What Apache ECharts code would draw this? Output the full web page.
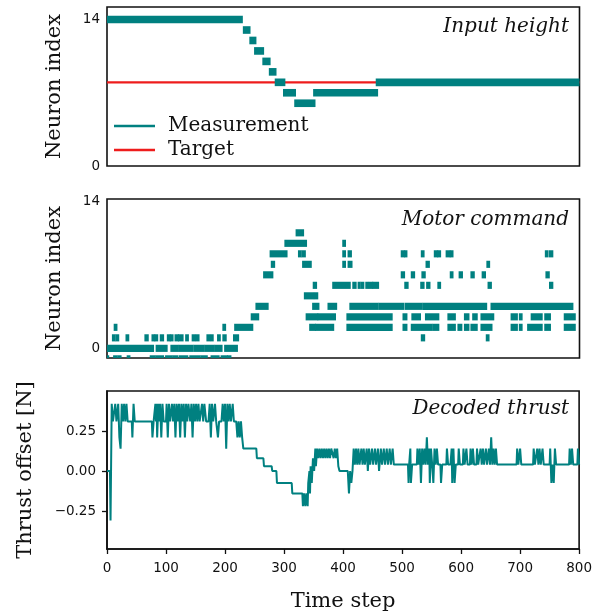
<!DOCTYPE html>
<html>
<head>
<meta charset="utf-8">
<script src="https://cdn.jsdelivr.net/npm/echarts@6/dist/echarts.min.js"></script>
<style>
  html, body { margin: 0; padding: 0; background: #fff; }
  #chart { width: 595px; height: 616px; }
</style>
</head>
<body>
<div id="chart"></div>
<script>
// tick values
var timeTicks = [0, 100, 200, 300, 400, 500, 600, 700, 800]
var neuronTicks = [0, 14]
var thrustTicks = [-0.25, 0, 0.25]

// input height: [start step, end step, neuron row]
var measurement = [
  [0, 230, 14], [230, 243, 13], [241, 253, 12], [249, 266, 11], [263, 277, 10],
  [274, 287, 9], [284, 302, 8], [298, 320, 7], [317, 353, 6], [349, 459, 7], [455, 800, 8]
]
var target = [[0, 8], [800, 8]]

// motor command spikes, one list of [start, end] per neuron row
var motorRowIndex = [11, 10, 9, 8, 7, 6, 5, 4, 3, 2, 1, 0, -1]
var motorRowIntervals = [
  [[321, 332]],
  [[302, 337], [400, 403]],
  [[277, 304], [325, 328], [331, 335], [400, 403], [409, 413], [499, 503], [505, 507], [533, 536], [555, 559], [561, 564], [575, 580], [582, 585], [743, 746], [750, 754]],
  [[279, 283], [332, 345], [400, 403], [409, 414], [541, 545], [644, 647]],
  [[266, 280], [499, 503], [516, 520], [534, 538], [582, 585], [597, 601], [617, 621], [636, 640], [744, 748]],
  [[350, 354], [383, 411], [417, 421], [426, 428], [431, 434], [439, 442], [445, 449], [451, 459], [505, 509], [532, 536], [542, 546], [561, 564], [646, 650], [750, 754]],
  [[335, 349], [352, 356]],
  [[253, 272], [349, 358], [375, 388], [412, 458], [461, 502], [506, 533], [536, 642], [651, 788]],
  [[245, 256], [338, 356], [358, 386], [407, 482], [502, 507], [517, 530], [540, 561], [578, 589], [606, 612], [620, 626], [634, 654], [685, 694], [699, 702], [719, 736], [742, 750], [775, 792]],
  [[13, 16], [197, 200], [217, 246], [344, 352], [354, 383], [407, 482], [502, 507], [516, 550], [553, 561], [578, 589], [595, 600], [606, 612], [617, 626], [634, 651], [685, 694], [699, 702], [713, 736], [742, 750], [775, 792]],
  [[10, 13], [16, 19], [33, 36], [65, 69], [77, 80], [82, 85], [91, 95], [103, 106], [108, 111], [116, 120], [122, 128], [134, 137], [145, 149], [152, 155], [170, 173], [176, 179], [188, 191], [197, 201], [215, 222], [533, 537], [643, 646]],
  [[0, 78], [84, 101], [109, 119], [122, 145], [148, 164], [167, 180], [183, 194], [200, 220]],
  [[0, 2], [12, 16], [19, 23], [35, 38], [74, 81], [84, 95], [100, 109], [112, 119], [123, 136], [141, 157], [160, 169], [177, 189], [194, 203], [205, 209]]
]

// decoded thrust: [step, offset N]
var thrust = [
  [0, 0], [5, 0], [6, -0.31], [8, 0.42], [10, 0.31], [12, 0.31], [14, 0.42], [16, 0.31], [19, 0.42], [21, 0.21],
  [23, 0.14], [25, 0.42], [27, 0.31], [29, 0.42], [31, 0.31], [33, 0.42], [35, 0.31], [42, 0.31], [43, 0.21], [45, 0.42],
  [47, 0.31], [76, 0.31], [77, 0.21], [79, 0.31], [82, 0.42], [83, 0.31], [84, 0.42], [85, 0.21], [87, 0.42], [89, 0.31],
  [90, 0.42], [92, 0.21], [94, 0.42], [96, 0.31], [100, 0.31], [101, 0.42], [103, 0.21], [105, 0.42], [107, 0.31], [110, 0.42],
  [112, 0.31], [114, 0.42], [116, 0.21], [118, 0.42], [120, 0.31], [122, 0.42], [124, 0.21], [126, 0.42], [128, 0.31], [130, 0.42],
  [132, 0.21], [134, 0.42], [136, 0.31], [138, 0.42], [141, 0.31], [143, 0.42], [145, 0.21], [147, 0.42], [149, 0.31], [151, 0.42],
  [153, 0.31], [155, 0.42], [157, 0.31], [160, 0.31], [161, 0.42], [163, 0.31], [165, 0.42], [168, 0.31], [172, 0.31], [174, 0.42],
  [176, 0.21], [178, 0.42], [180, 0.31], [183, 0.42], [185, 0.31], [188, 0.21], [190, 0.31], [194, 0.31], [196, 0.42], [198, 0.31],
  [200, 0.42], [202, 0.14], [204, 0.42], [206, 0.31], [208, 0.42], [210, 0.31], [213, 0.42], [215, 0.31], [219, 0.31], [221, 0.21],
  [223, 0.31], [225, 0.21], [227, 0.31], [229, 0.21], [231, 0.14], [253, 0.14], [254, 0.08], [265, 0.08], [266, 0.03], [279, 0.03],
  [280, 0], [287, 0], [288, -0.075], [313, -0.075], [314, -0.14], [331, -0.14], [332, -0.22], [334, -0.14], [336, -0.22], [338, -0.14],
  [340, -0.22], [341, -0.075], [343, 0], [344, -0.14], [345, 0.03], [347, -0.075], [349, 0.08], [351, 0], [353, 0.14], [354, 0.03],
  [356, 0.14], [358, 0.08], [360, 0.14], [362, 0.08], [364, 0.14], [366, 0.08], [368, 0.14], [370, 0.08], [372, 0.14], [374, 0.08],
  [376, 0.14], [378, 0.08], [380, 0.14], [382, 0.14], [384, 0.08], [386, 0.14], [388, 0.08], [390, 0.14], [392, 0.03], [394, 0],
  [408, 0], [410, -0.14], [412, 0], [414, -0.075], [416, 0], [418, 0.14], [420, 0.04], [422, 0.14], [424, 0.04], [426, 0.14],
  [428, 0.04], [431, 0.14], [433, 0.04], [435, 0.14], [437, 0.04], [440, 0.14], [442, 0], [444, 0.14], [446, 0.04], [449, 0.14],
  [451, 0.04], [454, 0.14], [456, 0.04], [459, 0.14], [461, 0], [464, 0.14], [466, 0.04], [469, 0.14], [471, 0.04], [474, 0.14],
  [476, 0.04], [479, 0.14], [481, 0.04], [484, 0.14], [486, 0.04], [510, 0.04], [511, -0.075], [512, 0.04], [514, 0.14], [515, -0.075],
  [517, 0.04], [525, 0.04], [526, 0.14], [528, 0.04], [530, 0.14], [532, -0.075], [534, 0.14], [536, 0.04], [538, 0.14], [540, 0.04],
  [542, 0.21], [544, 0.04], [546, 0.14], [547, -0.075], [549, 0.14], [551, 0.04], [553, -0.075], [555, 0.14], [557, 0.04], [559, 0.14],
  [561, 0.04], [565, 0.04], [566, -0.075], [568, 0.04], [575, 0.04], [576, 0.14], [578, 0.04], [582, 0.04], [584, 0.14], [585, -0.075],
  [587, 0.14], [589, -0.075], [591, 0.04], [595, 0.04], [596, 0.14], [598, 0.04], [603, 0.04], [604, 0.14], [606, 0.04], [609, 0.14],
  [611, 0.04], [615, 0.04], [616, 0.14], [618, 0.04], [620, 0.14], [622, 0.04], [626, 0.04], [627, 0.14], [629, 0.04], [633, 0.14],
  [635, 0.04], [637, 0.14], [639, 0.04], [642, 0.14], [644, 0.04], [647, 0.14], [649, 0.04], [651, 0.21], [653, 0.04], [655, 0.14],
  [657, 0.04], [659, 0.14], [661, 0.04], [694, 0.04], [695, 0.14], [697, 0.04], [700, 0.14], [702, 0.04], [722, 0.04], [723, 0.14],
  [725, 0.04], [729, 0.14], [731, 0.04], [733, 0.14], [735, 0.04], [738, 0.14], [740, 0.04], [750, 0.04], [751, 0.14], [753, -0.075],
  [755, 0.04], [757, -0.075], [759, 0.14], [761, 0.04], [783, 0.04], [784, 0.14], [786, 0.04], [788, 0.14], [790, 0.04], [797, 0.04],
  [798, 0.14], [800, 0.04]
]

var teal = '#008080'
var red = '#ee1c1c'
var serif = '"DejaVu Serif", serif'
var sans = '"DejaVu Sans", sans-serif'

var motorData = []
motorRowIndex.forEach(function (row, i) {
  motorRowIntervals[i].forEach(function (iv) {
    motorData.push([iv[0], iv[1], row])
  })
})

// bar between two steps on one neuron row
function rowBar (pad, rowHeight) {
  return function (params, api) {
    var p0 = api.coord([api.value(0), api.value(2)])
    var p1 = api.coord([api.value(1), api.value(2)])
    var h = api.size([0, rowHeight])[1]
    return {
      type: 'rect',
      shape: { x: p0[0] - pad, y: p0[1] - h / 2, width: p1[0] - p0[0] + 2 * pad, height: h },
      style: { fill: teal }
    }
  }
}

var chart = echarts.init(document.getElementById('chart'), null, { renderer: 'canvas' })

function xAxisFor (i) {
  var last = i === 2
  return {
    gridIndex: i,
    type: 'value',
    min: 0,
    max: 800,
    interval: 100,
    splitLine: { show: false },
    axisLine: { show: last, onZero: false, lineStyle: { color: '#111', width: 1.6 } },
    axisTick: { show: last, inside: false, length: 5, lineStyle: { color: '#111', width: 1.3 } },
    axisLabel: {
      show: last,
      margin: 12,
      fontFamily: sans,
      fontSize: 13.5,
      color: '#111',
      customValues: timeTicks
    },
    name: last ? 'Time step' : '',
    nameLocation: 'middle',
    nameGap: 42,
    nameTextStyle: { fontFamily: serif, fontSize: 21, color: '#111' }
  }
}

function neuronAxis (i, min, max) {
  return {
    gridIndex: i,
    type: 'value',
    min: min,
    max: max,
    splitLine: { show: false },
    axisLine: { show: false },
    axisTick: { show: false },
    axisLabel: {
      margin: 7,
      fontFamily: sans,
      fontSize: 13.5,
      color: '#111',
      customValues: neuronTicks
    },
    name: 'Neuron index',
    nameLocation: 'middle',
    nameGap: 42,
    nameTextStyle: { fontFamily: serif, fontSize: 21, color: '#111' }
  }
}

var option = {
  animation: false,
  backgroundColor: '#fff',
  grid: [
    { left: 107, right: 15.5, top: 7, height: 159, show: true, borderColor: '#111', borderWidth: 1.6 },
    { left: 107, right: 15.5, top: 199, height: 159, show: true, borderColor: '#111', borderWidth: 1.6 },
    { left: 107, right: 15.5, top: 391, height: 158, show: true, borderColor: '#111', borderWidth: 1.6 }
  ],
  legend: {
    data: [{ name: 'Measurement', icon: 'rect' }, { name: 'Target', icon: 'rect' }],
    orient: 'vertical',
    left: 114,
    top: 116,
    padding: 0,
    itemWidth: 41,
    itemHeight: 2.5,
    itemGap: 4,
    textStyle: { fontFamily: serif, fontSize: 20, lineHeight: 20, color: '#111', padding: [0, 0, 0, 8] }
  },
  xAxis: [xAxisFor(0), xAxisFor(1), xAxisFor(2)],
  yAxis: [
    neuronAxis(0, 0, 15.2),
    neuronAxis(1, -0.92, 14.22),
    {
      gridIndex: 2,
      type: 'value',
      min: -0.4875,
      max: 0.5,
      splitLine: { show: false },
      axisLine: { show: true, onZero: false, lineStyle: { color: '#111', width: 1.6 } },
      axisTick: { show: true, inside: false, length: 5, lineStyle: { color: '#111', width: 1.3 }, customValues: thrustTicks },
      axisLabel: {
        margin: 11,
        fontFamily: sans,
        fontSize: 13.5,
        color: '#111',
        customValues: thrustTicks,
        formatter: function (v) {
          return (v < 0 ? '\u2212' : '') + Math.abs(v).toFixed(2)
        }
      },
      name: 'Thrust offset [N]',
      nameLocation: 'middle',
      nameGap: 71,
      nameTextStyle: { fontFamily: serif, fontSize: 21, color: '#111' }
    }
  ],
  graphic: [
    { type: 'text', x: 569, y: 27, style: { text: 'Input height', font: 'italic 20px "DejaVu Serif"', fill: '#111', align: 'right', verticalAlign: 'middle' } },
    { type: 'text', x: 569, y: 220, style: { text: 'Motor command', font: 'italic 20px "DejaVu Serif"', fill: '#111', align: 'right', verticalAlign: 'middle' } },
    { type: 'text', x: 569, y: 409, style: { text: 'Decoded thrust', font: 'italic 20px "DejaVu Serif"', fill: '#111', align: 'right', verticalAlign: 'middle' } }
  ],
  series: [
    {
      name: 'Target',
      type: 'line',
      xAxisIndex: 0,
      yAxisIndex: 0,
      data: target,
      symbol: 'none',
      z: 1,
      lineStyle: { color: red, width: 2.2 },
      itemStyle: { color: red }
    },
    {
      name: 'Measurement',
      type: 'custom',
      xAxisIndex: 0,
      yAxisIndex: 0,
      clip: true,
      z: 2,
      itemStyle: { color: teal },
      encode: { x: [0, 1], y: 2 },
      renderItem: rowBar(0, 0.73),
      data: measurement
    },
    {
      name: 'Motor',
      type: 'custom',
      xAxisIndex: 1,
      yAxisIndex: 1,
      clip: true,
      itemStyle: { color: teal },
      encode: { x: [0, 1], y: 2 },
      renderItem: rowBar(1, 0.68),
      data: motorData
    },
    {
      name: 'Thrust',
      type: 'line',
      xAxisIndex: 2,
      yAxisIndex: 2,
      data: thrust,
      symbol: 'none',
      clip: true,
      lineStyle: { color: teal, width: 2 }
    }
  ]
}

chart.setOption(option)
window.addEventListener('resize', function () {
  chart.resize()
})
</script>
</body>
</html>
